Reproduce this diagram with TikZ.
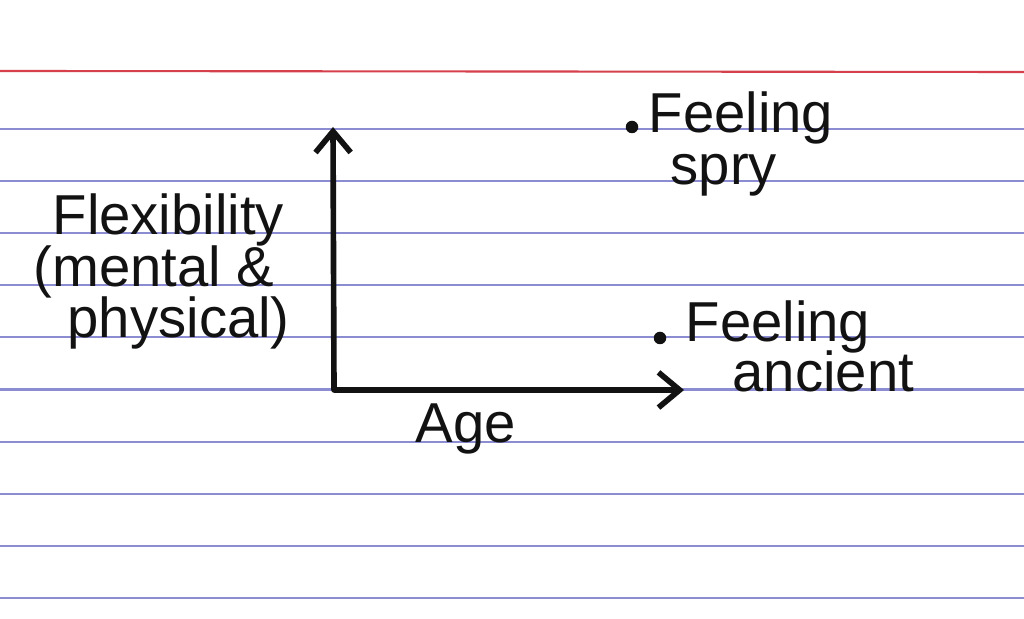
\documentclass[tikz,border=0pt]{standalone}
\usepackage{fontspec}
\setmainfont{Liberation Sans}
\usetikzlibrary{positioning, arrows.meta}
\definecolor{ruleblue}{RGB}{140,140,210}
\definecolor{rulered}{RGB}{214,64,76}
\definecolor{ink}{RGB}{18,18,18}

\begin{document}
\begin{tikzpicture}[
        x=0.01cm, y=-0.01cm,
        ruled/.style = {ruleblue, line width=0.6pt},
        margin/.style = {rulered, line width=0.6pt},
        barb/.tip = {Straight Barb[length=6pt, width=10pt]},
        axis/.style = {ink, line width=1.6pt, line join=round, barb-barb},
        hand/.style = {ink, inner sep=0pt, anchor=base west, font=\fontsize{16}{16}\selectfont},
        pin/.style = {circle, fill=ink, inner sep=0pt, minimum size=1.25mm},
    ]
        \fill[white] (0,0) rectangle (1024,619);
        \useasboundingbox (0,0) rectangle (1024,619);
        % index card rules
        \draw[margin] (0,71) -- (1024,72);
        \foreach \k in {0,...,9}
            \draw[ruled] (0,{129+52.1*\k}) -- (1024,{129+52.1*\k});
        % axes
        \coordinate (ytip) at (333,127);
        \coordinate (origin) at (334,390);
        \coordinate (xtip) at (684,390);
        \draw[axis] (ytip) -- (origin) -- (xtip);
        \node[hand] (flex) at (52,235) {Flexibility};
        \node[hand] (mental) at (33,287) {(mental \&};
        \node[hand] (physical) at (67,338) {physical)};
        \node[hand] (age) at (415,443) {Age};
        % the two points
        \node[pin] (spry) at (632,127) {};
        \node[hand] (spry1) at (648,133) {Feeling};
        \node[hand] (spry2) at (670,185) {spry};
        \node[pin] (ancient) at (660,338) {};
        \node[hand] (ancient1) at (685,342) {Feeling};
        \node[hand] (ancient2) at (732,392) {ancient};
    \end{tikzpicture}
\end{document}
